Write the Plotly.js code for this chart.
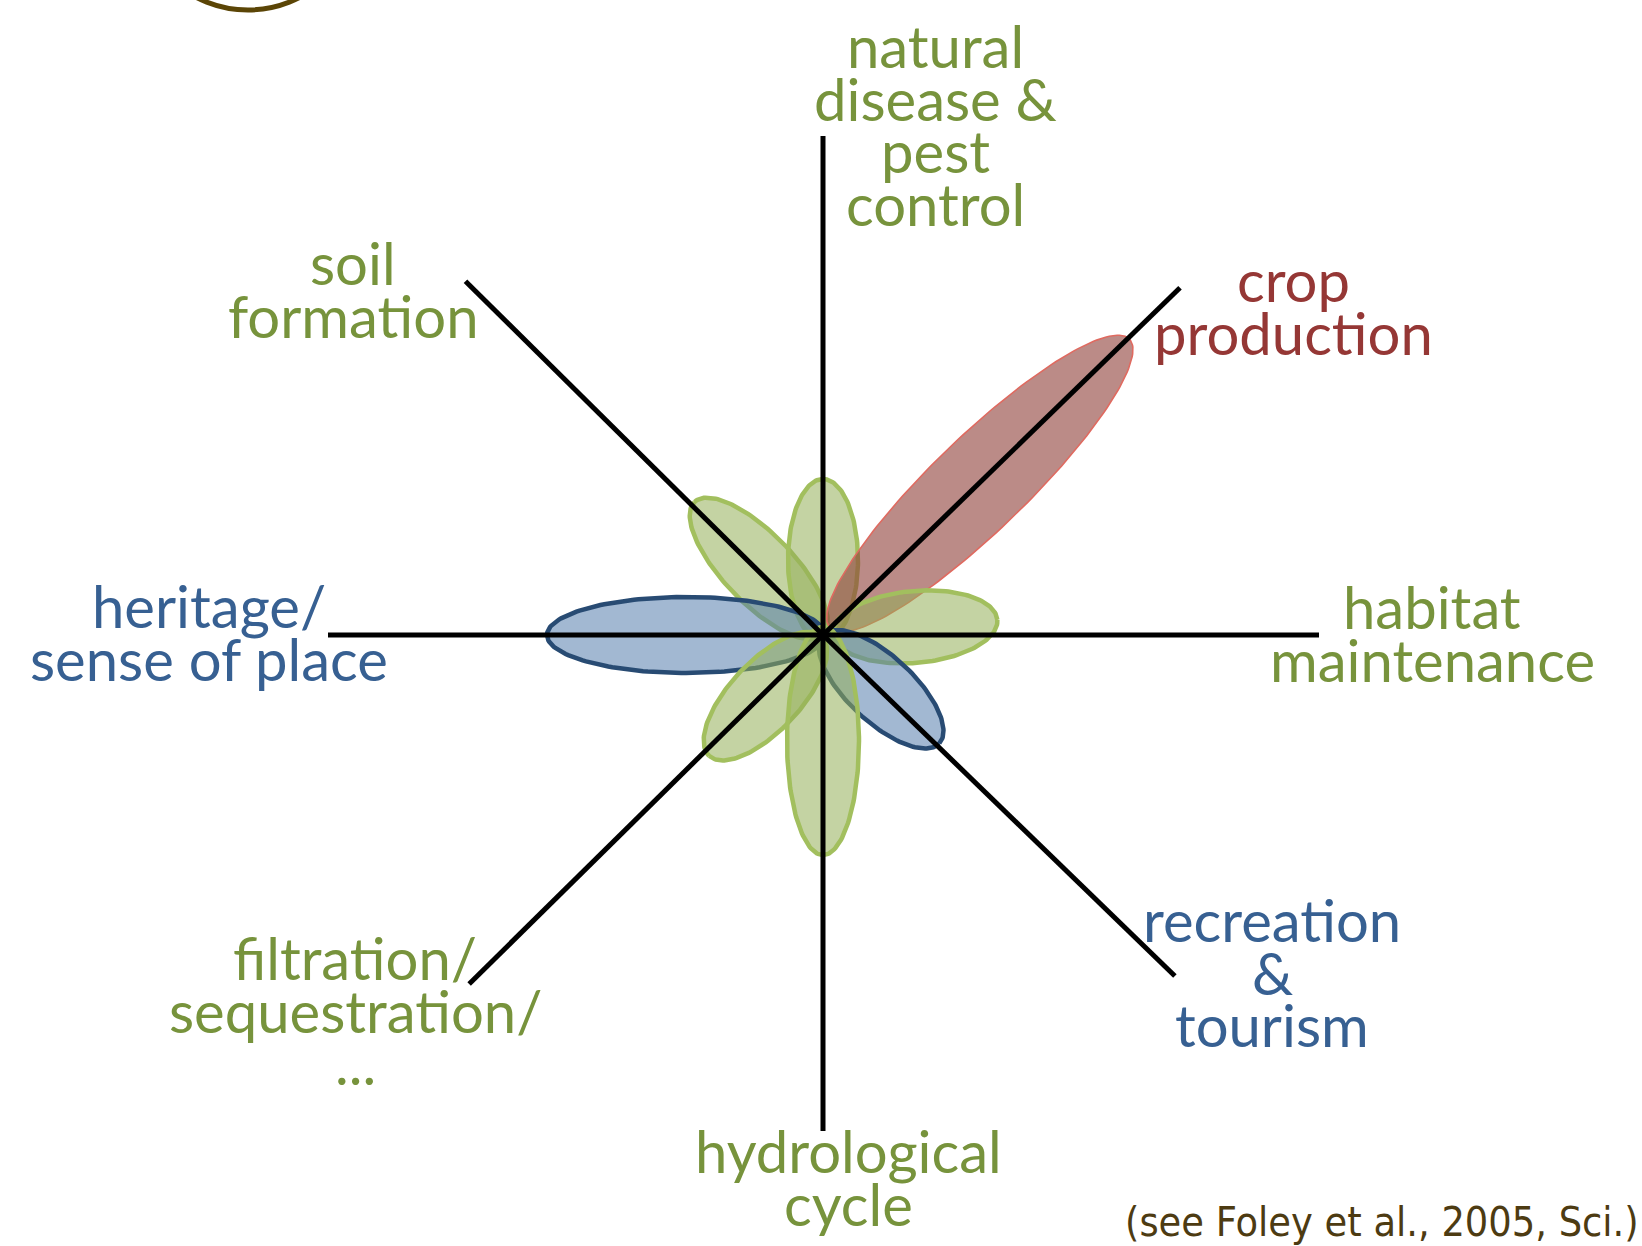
<!DOCTYPE html>
<html>
<head>
<meta charset="utf-8">
<script src="https://cdn.plot.ly/plotly-3.0.1.min.js"></script>
<style>
  html, body { margin: 0; padding: 0; background: #ffffff; }
  #chart { width: 1642px; height: 1246px; }
</style>
</head>
<body>
<div id="chart"></div>
<script>
// ---------------- DATA ----------------
// ecosystem services (one spoke each), clockwise from the top
const services = [
  "natural disease & pest control",
  "crop production",
  "habitat maintenance",
  "recreation & tourism",
  "hydrological cycle",
  "filtration/sequestration/...",
  "heritage/sense of place",
  "soil formation"
];
const labelLines = [
  ["natural", "disease &", "pest", "control"],
  ["crop", "production"],
  ["habitat", "maintenance"],
  ["recreation", "&", "tourism"],
  ["hydrological", "cycle"],
  ["filtration/", "sequestration/", "..."],
  ["heritage/", "sense of place"],
  ["soil", "formation"]
];
// service type: regulating (green), provisioning (red), cultural (blue)
const serviceType = [
  "regulating", "provisioning", "regulating", "cultural",
  "regulating", "regulating", "cultural", "regulating"
];
// spoke direction (degrees, counter-clockwise from east) and drawn length
const spokeAngle = [90, 44.2, 0, -44.1, -90, -135.4, 180, 135.3];
const spokeLength = [499, 498, 496, 490, 496, 497, 495, 503];
// petal reach along the spoke (level of the service), px on the diagram scale
const petalOuter = [156, 426, 175, 159, 220, 166, 276, 185];
const petalInner = [-6, 10, 10, 0, -8, 2, -2, 0];
const petalHalfWidth = [35, 47, 36, 33, 36, 35, 38, 35];
const petalAxisAngle = [90, 44, 5, -43, -90, -133.3, 180, 134];
const citation = "(see Foley et al., 2005, Sci.)";

// ---------------- STYLE / LAYOUT ----------------
const W = 1642, H = 1246;
const CX = 823, CY = 635;               // page position of the diagram centre
const typeStyle = {
  regulating:   { text: "#77933c", line: "#a2bf5e", lineW: 4.5, fill: "rgba(148,175,88,0.55)" },
  provisioning: { text: "#953735", line: "#df6a60", lineW: 1.6, fill: "rgba(142,62,55,0.60)" },
  cultural:     { text: "#376092", line: "#284b73", lineW: 4.5, fill: "rgba(86,126,173,0.55)" }
};
// drawing order of petals (indices into the arrays above)
const drawOrder = [7, 0, 1, 2, 6, 3, 5, 4];
// label placement: centre x and first baseline (page px)
const labelPos = [
  [935, 68], [1293, 302], [1432, 629], [1272, 942],
  [848, 1173], [355, 980], [209, 628], [353, 285]
];
const lineGap = 52.5;
const labelFont = "Lato, 'Open Sans', sans-serif";
const labelSize = 58;

// ---------------- BUILD ----------------
const toX = px => px - CX;
const toY = py => CY - py;
const traces = [];

drawOrder.forEach(i => {
  const th = petalAxisAngle[i] * Math.PI / 180;
  const a = (petalOuter[i] - petalInner[i]) / 2;
  const c = (petalOuter[i] + petalInner[i]) / 2;
  const b = petalHalfWidth[i];
  const ux = Math.cos(th), uy = Math.sin(th);
  const vx = -uy, vy = ux;
  const xs = [], ys = [];
  for (let k = 0; k <= 180; k++) {
    const t = 2 * Math.PI * k / 180;
    const p = c + a * Math.cos(t), q = b * Math.sin(t);
    xs.push(p * ux + q * vx);
    ys.push(p * uy + q * vy);
  }
  const st = typeStyle[serviceType[i]];
  traces.push({
    type: "scatter", mode: "lines", x: xs, y: ys, name: services[i],
    fill: "toself", fillcolor: st.fill,
    line: { color: st.line, width: st.lineW },
    hoverinfo: "skip", showlegend: false
  });
});

spokeAngle.forEach((ang, i) => {
  const th = ang * Math.PI / 180;
  traces.push({
    type: "scatter", mode: "lines",
    x: [0, spokeLength[i] * Math.cos(th)], y: [0, spokeLength[i] * Math.sin(th)],
    line: { color: "#000000", width: 5 }, name: services[i],
    hoverinfo: "skip", showlegend: false
  });
});

const annotations = [];
labelLines.forEach((lines, i) => {
  const st = typeStyle[serviceType[i]];
  lines.forEach((ln, j) => {
    const base = labelPos[i][1] + j * lineGap;
    annotations.push({
      x: toX(labelPos[i][0]), y: toY(base - 0.387 * labelSize),
      xref: "x", yref: "y", text: ln, showarrow: false,
      xanchor: "center", yanchor: "middle", borderpad: 0,
      font: { family: labelFont, size: labelSize, color: st.text }
    });
  });
});
annotations.push({
  x: toX(1640), y: toY(1236 - 0.346 * 41), xref: "x", yref: "y",
  text: citation, showarrow: false, xanchor: "right", yanchor: "middle", borderpad: 0,
  font: { family: "'DejaVu Sans Condensed', 'DejaVu Sans', sans-serif", size: 41, color: "#4d3b12" }
});

const layout = {
  width: W, height: H,
  margin: { l: 0, r: 0, t: 0, b: 0, pad: 0 },
  paper_bgcolor: "#ffffff", plot_bgcolor: "#ffffff",
  showlegend: false,
  xaxis: { range: [toX(0), toX(W)], visible: false, fixedrange: true },
  yaxis: { range: [toY(H), toY(0)], visible: false, fixedrange: true },
  annotations: annotations,
  shapes: [{
    type: "circle", xref: "x", yref: "y", layer: "above",
    x0: toX(136), x1: toX(360), y0: toY(10), y1: toY(-214),
    line: { color: "#5b4506", width: 5 }
  }]
};

Plotly.newPlot("chart", traces, layout, { staticPlot: true, displayModeBar: false });
</script>
</body>
</html>
